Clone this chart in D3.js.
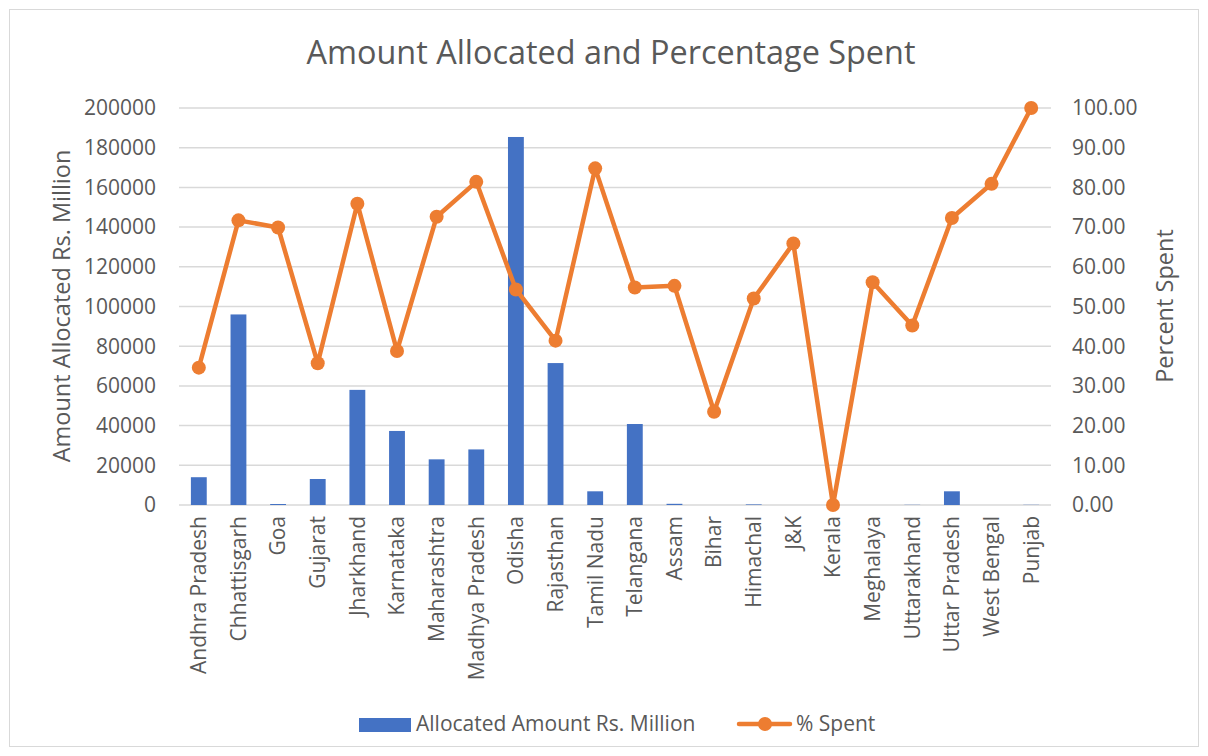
<!DOCTYPE html>
<html><head><meta charset="utf-8">
<script src="https://cdn.jsdelivr.net/npm/d3@7"></script>
<style>body{margin:0;background:#fff;} text{font-family:"Open Sans","Liberation Sans",sans-serif;fill:#595959;}</style>
</head><body>
<svg id="c" width="1208" height="756"></svg>
<script>
const categories = ["Andhra Pradesh","Chhattisgarh","Goa","Gujarat","Jharkhand","Karnataka","Maharashtra","Madhya Pradesh","Odisha","Rajasthan","Tamil Nadu","Telangana","Assam","Bihar","Himachal","J&K","Kerala","Meghalaya","Uttarakhand","Uttar Pradesh","West Bengal","Punjab"];
const allocated = [14000,96000,500,13100,58000,37300,23000,28000,185400,71500,6900,40800,600,0,300,0,0,0,100,6900,0,100];
const spent = [34.6,71.7,69.9,35.7,75.9,38.8,72.6,81.4,54.3,41.4,84.8,54.8,55.2,23.5,52.0,65.9,0,56.1,45.2,72.3,80.9,100];
const leftTicks = [0,20000,40000,60000,80000,100000,120000,140000,160000,180000,200000];
const rightTicks = [0,10,20,30,40,50,60,70,80,90,100];

const svg = d3.select("#c");
svg.append("rect").attr("x",9.5).attr("y",9.5).attr("width",1189).attr("height",737)
  .attr("fill","#fff").attr("stroke","#d9d9d9");

const L=179, R=1051, T=108, B=505;
const x = d3.scaleBand().domain(categories).range([L,R]).paddingInner(0.6).paddingOuter(0.3);
const yL = d3.scaleLinear().domain([0,200000]).range([B,T]);
const yR = d3.scaleLinear().domain([0,100]).range([B,T]);

svg.append("g").selectAll("line").data(leftTicks).join("line")
  .attr("x1",L).attr("x2",R).attr("y1",d=>yL(d)).attr("y2",d=>yL(d))
  .attr("stroke","#d9d9d9").attr("stroke-width",1.5);

svg.append("g").selectAll("text").data(leftTicks).join("text")
  .attr("x",156).attr("y",d=>yL(d)).attr("dy","0.35em").attr("text-anchor","end")
  .attr("font-size",21).text(d=>d);
svg.append("g").selectAll("text").data(rightTicks).join("text")
  .attr("x",1072).attr("y",d=>yR(d)).attr("dy","0.35em").attr("text-anchor","start")
  .attr("font-size",21).text(d=>d3.format(".2f")(d));

svg.append("g").selectAll("rect").data(allocated).join("rect")
  .attr("x",(d,i)=>x(categories[i])).attr("width",x.bandwidth())
  .attr("y",d=>yL(d)).attr("height",d=>B-yL(d)).attr("fill","#4472C4");

const cx = i => x(categories[i]) + x.bandwidth()/2;
const line = d3.line().x((d,i)=>cx(i)).y(d=>yR(d));
svg.append("path").datum(spent).attr("d",line).attr("fill","none")
  .attr("stroke","#ED7D31").attr("stroke-width",4.5).attr("stroke-linejoin","round").attr("stroke-linecap","round");
svg.append("g").selectAll("circle").data(spent).join("circle")
  .attr("cx",(d,i)=>cx(i)).attr("cy",d=>yR(d)).attr("r",7).attr("fill","#ED7D31");

svg.append("g").selectAll("text").data(categories).join("text")
  .attr("transform",(d,i)=>`translate(${cx(i)},516) rotate(-90)`)
  .attr("dy","0.35em").attr("text-anchor","end").attr("font-size",21).text(d=>d);

svg.append("text").attr("x",611).attr("y",53).attr("dy","0.35em").attr("text-anchor","middle")
  .attr("font-size",32.4).text("Amount Allocated and Percentage Spent");

svg.append("text").attr("transform","translate(62,306) rotate(-90)").attr("dy","0.35em")
  .attr("text-anchor","middle").attr("font-size",23.5).text("Amount Allocated Rs. Million");
svg.append("text").attr("transform","translate(1165,306) rotate(-90)").attr("dy","0.35em")
  .attr("text-anchor","middle").attr("font-size",23.5).text("Percent Spent");

const lg = svg.append("g");
lg.append("rect").attr("x",359).attr("y",718).attr("width",52).attr("height",14).attr("fill","#4472C4");
lg.append("text").attr("x",416).attr("y",724).attr("dy","0.35em").attr("font-size",21).text("Allocated Amount Rs. Million");
lg.append("line").attr("x1",739).attr("x2",790).attr("y1",724).attr("y2",724).attr("stroke","#ED7D31").attr("stroke-width",4.5).attr("stroke-linecap","round");
lg.append("circle").attr("cx",765).attr("cy",724).attr("r",7).attr("fill","#ED7D31");
lg.append("text").attr("x",796).attr("y",724).attr("dy","0.35em").attr("font-size",21).text("% Spent");
</script>
</body></html>
